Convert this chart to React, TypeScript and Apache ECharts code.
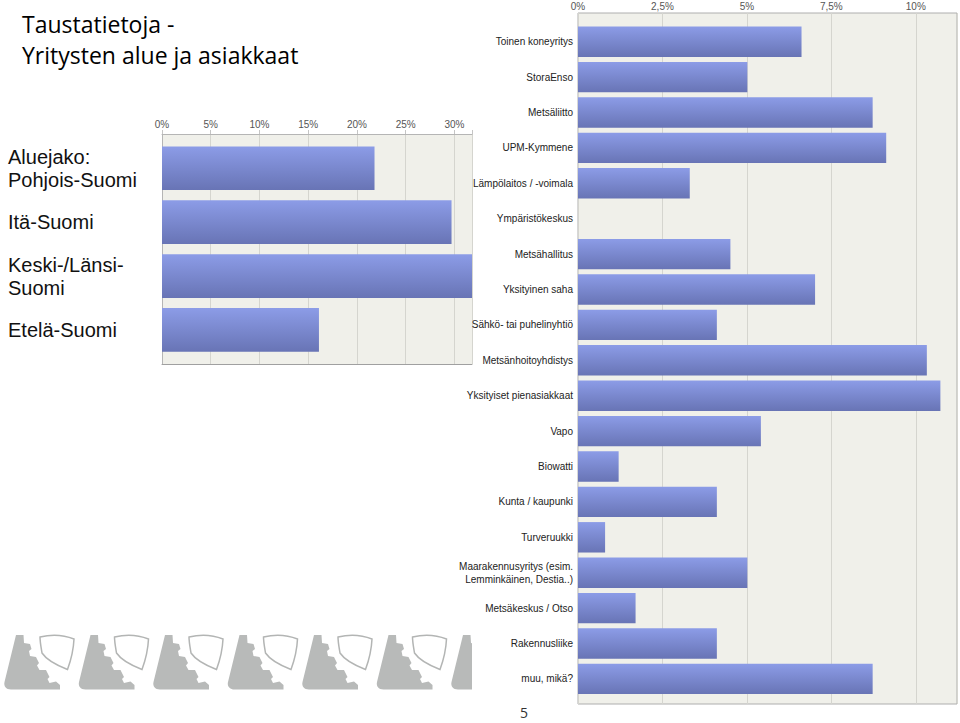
import React, { useEffect, useRef } from "react";
import * as echarts from "echarts";

// ---------- data ----------
const titleText = "Taustatietoja -\nYritysten alue ja asiakkaat";
const pageNumber = "5";

const regionCategories = [
  "Aluejako:\nPohjois-Suomi",
  "Itä-Suomi",
  "Keski-/Länsi-\nSuomi",
  "Etelä-Suomi",
];
const regionValues = [21.8, 29.7, 32.4, 16.1];
const regionTickLabels = ["0%", "5%", "10%", "15%", "20%", "25%", "30%"];
const regionInterval = 5;
const regionMax = 31.8;

const customerCategories = [
  "Toinen koneyritys",
  "StoraEnso",
  "Metsäliitto",
  "UPM-Kymmene",
  "Lämpölaitos / -voimala",
  "Ympäristökeskus",
  "Metsähallitus",
  "Yksityinen saha",
  "Sähkö- tai puhelinyhtiö",
  "Metsänhoitoyhdistys",
  "Yksityiset pienasiakkaat",
  "Vapo",
  "Biowatti",
  "Kunta / kaupunki",
  "Turveruukki",
  "Maarakennusyritys (esim.\nLemminkäinen, Destia..)",
  "Metsäkeskus / Otso",
  "Rakennusliike",
  "muu, mikä?",
];
const customerValues = [
  6.6, 5.0, 8.7, 9.1, 3.3, 0, 4.5, 7.0, 4.1, 10.3, 10.7, 5.4, 1.2, 4.1, 0.8, 5.0,
  1.7, 4.1, 8.7,
];
const customerTickLabels = ["0%", "2,5%", "5%", "7,5%", "10%"];
const customerInterval = 2.5;
const customerMax = 11.22;

// ---------- decorative footer shapes ----------
const GEAR_D =
  "M16,10 L23.5,10 L24,18 L30,19 L31.5,24 L29,26 L30,31 L36,32 L39,38 L37,40.5 L39.5,45 L46,45 L49.5,52 L47.5,54 L49.5,58 L56,56.5 L60,60 L60,64.5 L11,64.5 C6,64.5 3.5,61 4.5,57 Z";
const GEAR_PART_D = "M16,10 L23.5,10 L24,18 L25,18.2 L25,64.5 L11,64.5 C6,64.5 3.5,61 4.5,57 Z";
const SHIELD_D =
  "M40,12 C52,9 64,10 74,14 C73.5,25 71,35 67.5,44.5 C56,40 46,34 42,28 C41,22 40,17 40,12 Z";
let shapesRegistered = false;
function ensureShapes() {
  if (shapesRegistered) return;
  echarts.graphic.registerShape("gearFill", echarts.graphic.extendPath(GEAR_D, {}));
  echarts.graphic.registerShape("gearPart", echarts.graphic.extendPath(GEAR_PART_D, {}));
  echarts.graphic.registerShape("shieldLine", echarts.graphic.extendPath(SHIELD_D, {}));
  shapesRegistered = true;
}

const barGradient = {
  type: "linear",
  x: 0,
  y: 0,
  x2: 0,
  y2: 1,
  colorStops: [
    { offset: 0, color: "#8c9ce7" },
    { offset: 1, color: "#6874b5" },
  ],
};

function tickFormatter(labels: string[], step: number) {
  return (v: number) => {
    const i = Math.round(v / step);
    return Math.abs(i * step - v) < 1e-6 ? labels[i] ?? "" : "";
  };
}

const PLOT_BG = "#f0f0ea";
const SPLIT = "#d5d5cf";
const LOGO_FILL = "#b8bab9";

function leftOption() {
  const logos: any[] = [];
  for (let k = 0; k < 6; k++) {
    const x = k * 74.5;
    logos.push({ type: "gearFill", x, y: 625, silent: true, style: { fill: LOGO_FILL } });
    logos.push({
      type: "shieldLine",
      x,
      y: 625,
      silent: true,
      style: { fill: "none", stroke: "#b3b5b4", lineWidth: 1.5 },
    });
  }
  logos.push({ type: "gearPart", x: 6 * 74.5, y: 625, silent: true, style: { fill: LOGO_FILL } });

  return {
    animation: false,
    grid: [
      { left: 162, top: 134, width: 310, height: 230, show: true, backgroundColor: PLOT_BG, borderWidth: 0 },
      { left: 162, top: 141.3, width: 310, height: 215.6 },
    ],
    xAxis: [
      {
        gridIndex: 0,
        type: "value",
        position: "top",
        min: 0,
        max: regionMax,
        interval: regionInterval,
        axisLine: { show: true, onZero: false, lineStyle: { color: "#b5b5b5" } },
        axisTick: { show: true, length: 4, lineStyle: { color: "#c5c5c5" } },
        axisLabel: {
          margin: 5,
          fontSize: 10,
          color: "#555",
          fontFamily: "Liberation Sans",
          formatter: tickFormatter(regionTickLabels, regionInterval),
        },
        splitLine: { show: true, lineStyle: { color: SPLIT } },
      },
      {
        gridIndex: 0,
        type: "value",
        position: "bottom",
        min: 0,
        max: regionMax,
        axisLine: { show: true, onZero: false, lineStyle: { color: "#a0a0a0" } },
        axisTick: { show: false },
        axisLabel: { show: false },
        splitLine: { show: false },
      },
      { gridIndex: 1, type: "value", min: 0, max: regionMax, show: false },
    ],
    yAxis: [
      {
        gridIndex: 0,
        type: "value",
        min: 0,
        max: 1,
        axisLine: { show: true, onZero: false, lineStyle: { color: "#b5b5b5" } },
        axisTick: { show: false },
        axisLabel: { show: false },
        splitLine: { show: false },
      },
      {
        gridIndex: 1,
        type: "category",
        inverse: true,
        data: regionCategories,
        axisLine: { show: false },
        axisTick: { show: false },
        axisLabel: {
          align: "left",
          margin: 154,
          fontSize: 20,
          lineHeight: 23,
          fontFamily: "Liberation Sans",
          color: "#111",
        },
      },
    ],
    series: [
      {
        type: "bar",
        xAxisIndex: 2,
        yAxisIndex: 1,
        data: regionValues,
        barCategoryGap: "19%",
        clip: true,
        itemStyle: { color: barGradient },
      },
    ],
    graphic: [
      {
        type: "text",
        x: 22,
        y: 8,
        style: {
          text: titleText,
          fontSize: 23,
          fontFamily: "Open Sans",
          lineHeight: 31,
          fill: "#000",
        },
      },
      ...logos,
    ],
  };
}

function rightOption() {
  return {
    animation: false,
    grid: [
      { left: 578, top: 13, width: 380, height: 691, show: true, backgroundColor: PLOT_BG, borderWidth: 1, borderColor: "#aeaeae" },
      { left: 578, top: 24, width: 380, height: 672.6 },
    ],
    xAxis: [
      {
        gridIndex: 0,
        type: "value",
        position: "top",
        min: 0,
        max: customerMax,
        interval: customerInterval,
        axisLine: { show: false },
        axisTick: { show: false },
        axisLabel: {
          margin: 2,
          fontSize: 10,
          color: "#555",
          fontFamily: "Liberation Sans",
          formatter: tickFormatter(customerTickLabels, customerInterval),
        },
        splitLine: { show: true, lineStyle: { color: SPLIT } },
      },
      { gridIndex: 1, type: "value", min: 0, max: customerMax, show: false },
    ],
    yAxis: [
      { gridIndex: 0, type: "value", min: 0, max: 1, show: false },
      {
        gridIndex: 1,
        type: "category",
        inverse: true,
        data: customerCategories,
        axisLine: { show: false },
        axisTick: { show: false },
        axisLabel: {
          margin: 5,
          fontSize: 10,
          lineHeight: 13,
          fontFamily: "Liberation Sans",
          color: "#222",
        },
      },
    ],
    series: [
      {
        type: "bar",
        xAxisIndex: 1,
        yAxisIndex: 1,
        data: customerValues,
        barCategoryGap: "14%",
        itemStyle: { color: barGradient },
      },
    ],
    graphic: [
      {
        type: "text",
        x: 524,
        y: 712,
        style: {
          text: pageNumber,
          fontSize: 14,
          fontFamily: "Open Sans",
          fill: "#333",
          align: "center",
          verticalAlign: "middle",
        },
      },
    ],
  };
}

export default function App() {
  const leftRef = useRef<HTMLDivElement>(null);
  const rightRef = useRef<HTMLDivElement>(null);

  useEffect(() => {
    ensureShapes();
    const c1 = echarts.init(leftRef.current!, undefined, { renderer: "svg" });
    const c2 = echarts.init(rightRef.current!, undefined, { renderer: "svg" });
    c1.setOption(leftOption() as any);
    c2.setOption(rightOption() as any);
    return () => {
      c1.dispose();
      c2.dispose();
    };
  }, []);

  return (
    <div
      style={{
        position: "absolute",
        left: 0,
        top: 0,
        width: 960,
        height: 723,
        background: "#fff",
        overflow: "hidden",
      }}
    >
      <div ref={leftRef} style={{ position: "absolute", left: 0, top: 0, width: 960, height: 723 }} />
      <div ref={rightRef} style={{ position: "absolute", left: 0, top: 0, width: 960, height: 723 }} />
    </div>
  );
}
